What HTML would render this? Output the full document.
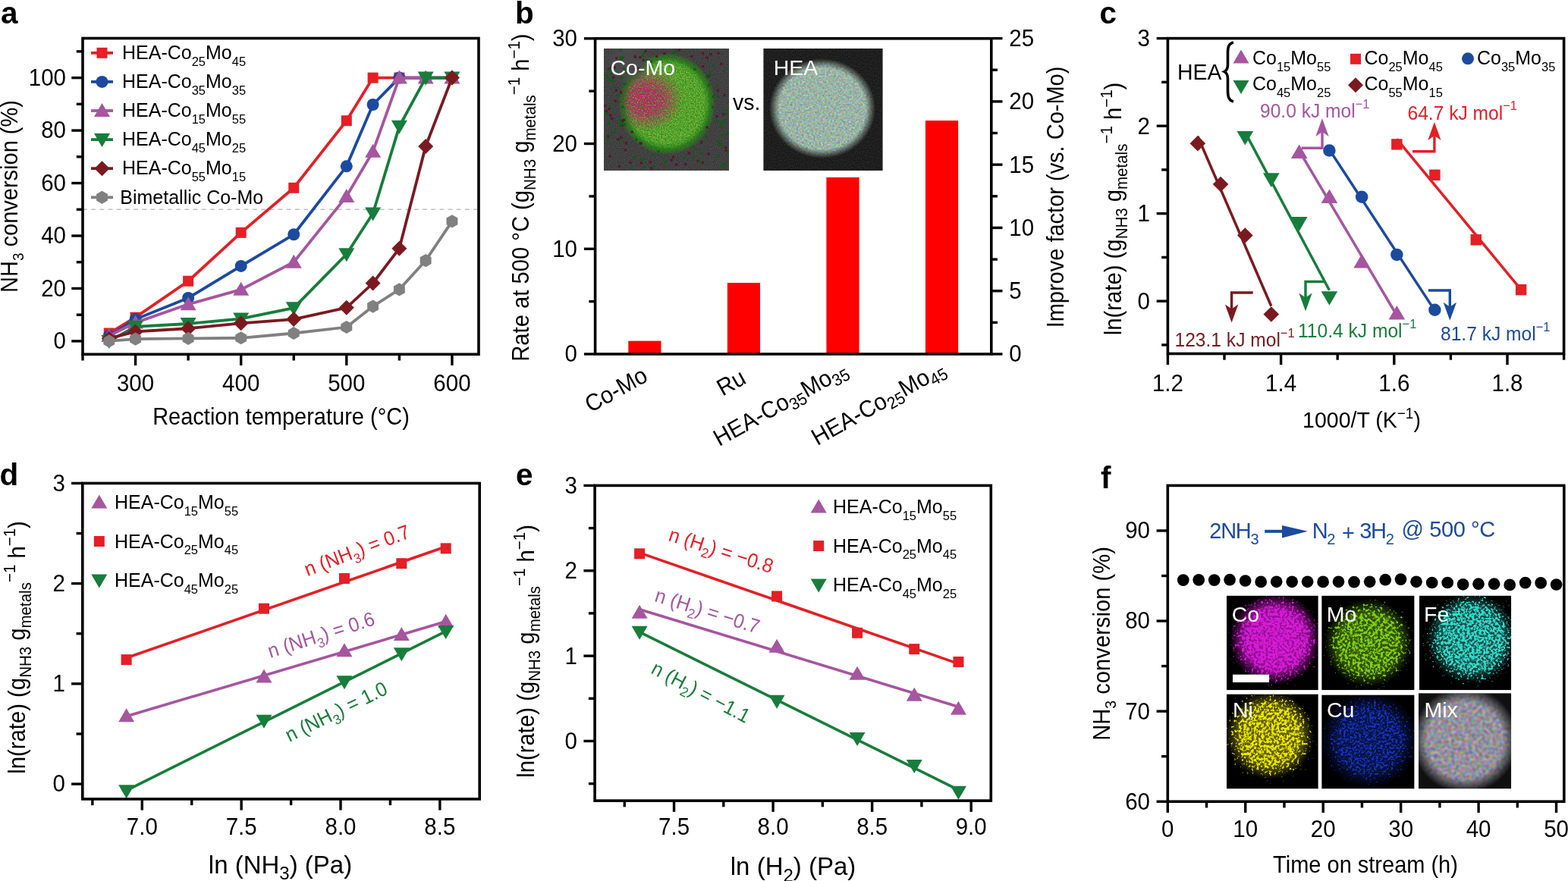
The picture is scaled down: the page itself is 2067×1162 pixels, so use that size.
<!DOCTYPE html>
<html><head><meta charset="utf-8"><style>
html,body{margin:0;padding:0;background:#fff;}
svg{display:block;font-family:'Liberation Sans', Arial, Helvetica, sans-serif;}
</style></head><body>
<svg width="2067" height="1162" viewBox="0 0 2067 1162">
<defs><clipPath id="cpb1"><rect x="796" y="64" width="165" height="161"/></clipPath><filter id="gnb1" x="0" y="0" width="100%" height="100%" color-interpolation-filters="sRGB"><feTurbulence type="fractalNoise" baseFrequency="0.9" numOctaves="1" seed="3" result="n"/><feColorMatrix in="n" type="matrix" values="0.25 0 0 0 0.13 0.25 0 0 0 0.13 0.25 0 0 0 0.13 0 0 0 0 1" result="g"/><feComposite in="g" in2="SourceGraphic" operator="in"/></filter><radialGradient id="gmPart" cx="879" cy="137" r="64" gradientUnits="userSpaceOnUse" gradientTransform="translate(879 137) scale(1.0 1.05) translate(-879 -137)"><stop offset="0" stop-color="#fff" stop-opacity="1"/><stop offset="0.84" stop-color="#fff" stop-opacity="1"/><stop offset="1" stop-color="#fff" stop-opacity="0"/></radialGradient><mask id="mPart" maskUnits="userSpaceOnUse" x="796" y="64" width="165" height="161"><rect x="796" y="64" width="165.0" height="161.0" fill="url(#gmPart)" /></mask><radialGradient id="gRim" cx="879" cy="137" r="64" gradientUnits="userSpaceOnUse" gradientTransform="translate(879 137) scale(1.0 1.05) translate(-879 -137)"><stop offset="0" stop-color="#0a6a0a" stop-opacity="0"/><stop offset="0.76" stop-color="#0a6a0a" stop-opacity="0"/><stop offset="0.9" stop-color="#0c700c" stop-opacity="0.55"/><stop offset="1" stop-color="#0a5a0a" stop-opacity="0"/></radialGradient><radialGradient id="gCut" cx="828" cy="82" r="34" gradientUnits="userSpaceOnUse" gradientTransform="translate(828 82) scale(1.0 0.88) translate(-828 -82)"><stop offset="0" stop-color="#4a4a4a" stop-opacity="1"/><stop offset="0.55" stop-color="#4a4a4a" stop-opacity="0.9"/><stop offset="1" stop-color="#4a4a4a" stop-opacity="0"/></radialGradient><radialGradient id="gmPink" cx="851" cy="131" r="50" gradientUnits="userSpaceOnUse" gradientTransform="translate(851 131) scale(1.0 0.85) translate(-851 -131)"><stop offset="0" stop-color="#fff" stop-opacity="1"/><stop offset="0.45" stop-color="#fff" stop-opacity="0.9"/><stop offset="1" stop-color="#fff" stop-opacity="0"/></radialGradient><mask id="mPink" maskUnits="userSpaceOnUse" x="796" y="64" width="165" height="161"><rect x="796" y="64" width="165.0" height="161.0" fill="url(#gmPink)" /></mask><filter id="nzb1" x="0" y="0" width="100%" height="100%" color-interpolation-filters="sRGB"><feTurbulence type="fractalNoise" baseFrequency="0.55" numOctaves="1" seed="7" result="n"/><feColorMatrix in="n" type="matrix" values="0 0 0 0 0 0 0 0 0 0 0 0 0 0 0 3.0 0 0 0 -0.8" result="m"/><feComposite in="SourceGraphic" in2="m" operator="in"/></filter><filter id="nzb2" x="0" y="0" width="100%" height="100%" color-interpolation-filters="sRGB"><feTurbulence type="fractalNoise" baseFrequency="0.6" numOctaves="1" seed="13" result="n"/><feColorMatrix in="n" type="matrix" values="0 0 0 0 0 0 0 0 0 0 0 0 0 0 0 3.0 0 0 0 -1.0" result="m"/><feComposite in="SourceGraphic" in2="m" operator="in"/></filter><clipPath id="cpb2"><rect x="1006.4" y="64" width="157.2" height="161"/></clipPath><filter id="cnb2" x="0" y="0" width="100%" height="100%" color-interpolation-filters="sRGB"><feTurbulence type="fractalNoise" baseFrequency="0.7" numOctaves="1" seed="9" result="n"/><feColorMatrix in="n" type="matrix" values="0.3 0 0 0 -0.03 0 0.3 0 0 -0.03 0 0 0.3 0 -0.03 0 0 0 0 1.0" result="g"/><feComposite in="g" in2="SourceGraphic" operator="in"/></filter><radialGradient id="gmHEA" cx="1084" cy="143" r="70" gradientUnits="userSpaceOnUse" gradientTransform="translate(1084 143) scale(1.0 0.94) translate(-1084 -143)"><stop offset="0" stop-color="#fff" stop-opacity="1"/><stop offset="0.82" stop-color="#fff" stop-opacity="1"/><stop offset="1" stop-color="#fff" stop-opacity="0"/></radialGradient><mask id="mHEA" maskUnits="userSpaceOnUse" x="1006.4" y="64" width="157.2" height="161"><rect x="1006.4" y="64" width="157.2" height="161.0" fill="url(#gmHEA)" /></mask><filter id="cnb3" x="0" y="0" width="100%" height="100%" color-interpolation-filters="sRGB"><feTurbulence type="fractalNoise" baseFrequency="0.4" numOctaves="1" seed="4" result="n"/><feColorMatrix in="n" type="matrix" values="1.9 0 0 0 -0.4 0 1.6 0 0 -0.2 0 0 2.0 0 -0.4 0 0 0 0 0.35" result="g"/><feComposite in="g" in2="SourceGraphic" operator="in"/></filter><clipPath id="cpf0"><rect x="1617.0" y="785.6" width="120.8" height="124.7"/></clipPath><radialGradient id="gdf0" cx="1681" cy="843" r="74" gradientUnits="userSpaceOnUse"><stop offset="0" stop-color="#fff" stop-opacity="1"/><stop offset="0.5" stop-color="#fff" stop-opacity="1"/><stop offset="1" stop-color="#fff" stop-opacity="0"/></radialGradient><radialGradient id="ghf0" cx="1681" cy="843" r="60" gradientUnits="userSpaceOnUse"><stop offset="0" stop-color="#d819d8" stop-opacity="0.75"/><stop offset="0.7" stop-color="#d819d8" stop-opacity="0.6375"/><stop offset="1" stop-color="#d819d8" stop-opacity="0"/></radialGradient><filter id="nzf0" x="0" y="0" width="100%" height="100%" color-interpolation-filters="sRGB"><feTurbulence type="fractalNoise" baseFrequency="0.32" numOctaves="2" seed="3" result="n"/><feColorMatrix in="n" type="matrix" values="1 0 0 0 0 1 0 0 0 0 1 0 0 0 0 0 0 0 0 1" result="ng"/><feColorMatrix in="SourceGraphic" type="matrix" values="0 0 0 1 0 0 0 0 1 0 0 0 0 1 0 0 0 0 0 1" result="gg"/><feComposite in="ng" in2="gg" operator="arithmetic" k1="0" k2="1" k3="0.5" k4="-0.5" result="s"/><feColorMatrix in="s" type="matrix" values="0 0 0 0 0.85 0 0 0 0 0.1 0 0 0 0 0.85 7 0 0 0 -2.7" result="d"/><feGaussianBlur in="d" stdDeviation="0.35"/></filter><clipPath id="cpf1"><rect x="1742.2" y="785.6" width="122.4" height="124.7"/></clipPath><radialGradient id="gdf1" cx="1804" cy="848" r="76" gradientUnits="userSpaceOnUse"><stop offset="0" stop-color="#fff" stop-opacity="1"/><stop offset="0.5" stop-color="#fff" stop-opacity="1"/><stop offset="1" stop-color="#fff" stop-opacity="0"/></radialGradient><radialGradient id="ghf1" cx="1804" cy="848" r="58" gradientUnits="userSpaceOnUse"><stop offset="0" stop-color="#7fd10f" stop-opacity="0.45"/><stop offset="0.7" stop-color="#7fd10f" stop-opacity="0.3825"/><stop offset="1" stop-color="#7fd10f" stop-opacity="0"/></radialGradient><filter id="nzf1" x="0" y="0" width="100%" height="100%" color-interpolation-filters="sRGB"><feTurbulence type="fractalNoise" baseFrequency="0.3" numOctaves="2" seed="5" result="n"/><feColorMatrix in="n" type="matrix" values="1 0 0 0 0 1 0 0 0 0 1 0 0 0 0 0 0 0 0 1" result="ng"/><feColorMatrix in="SourceGraphic" type="matrix" values="0 0 0 1 0 0 0 0 1 0 0 0 0 1 0 0 0 0 0 1" result="gg"/><feComposite in="ng" in2="gg" operator="arithmetic" k1="0" k2="1" k3="0.5" k4="-0.5" result="s"/><feColorMatrix in="s" type="matrix" values="0 0 0 0 0.5 0 0 0 0 0.82 0 0 0 0 0.06 7 0 0 0 -3.1" result="d"/><feGaussianBlur in="d" stdDeviation="0.35"/></filter><clipPath id="cpf2"><rect x="1870.9" y="785.6" width="121.3" height="124.7"/></clipPath><radialGradient id="gdf2" cx="1940" cy="842" r="80" gradientUnits="userSpaceOnUse"><stop offset="0" stop-color="#fff" stop-opacity="1"/><stop offset="0.5" stop-color="#fff" stop-opacity="1"/><stop offset="1" stop-color="#fff" stop-opacity="0"/></radialGradient><radialGradient id="ghf2" cx="1940" cy="842" r="60" gradientUnits="userSpaceOnUse"><stop offset="0" stop-color="#33dbcc" stop-opacity="0.4"/><stop offset="0.7" stop-color="#33dbcc" stop-opacity="0.34"/><stop offset="1" stop-color="#33dbcc" stop-opacity="0"/></radialGradient><filter id="nzf2" x="0" y="0" width="100%" height="100%" color-interpolation-filters="sRGB"><feTurbulence type="fractalNoise" baseFrequency="0.32" numOctaves="2" seed="7" result="n"/><feColorMatrix in="n" type="matrix" values="1 0 0 0 0 1 0 0 0 0 1 0 0 0 0 0 0 0 0 1" result="ng"/><feColorMatrix in="SourceGraphic" type="matrix" values="0 0 0 1 0 0 0 0 1 0 0 0 0 1 0 0 0 0 0 1" result="gg"/><feComposite in="ng" in2="gg" operator="arithmetic" k1="0" k2="1" k3="0.5" k4="-0.5" result="s"/><feColorMatrix in="s" type="matrix" values="0 0 0 0 0.2 0 0 0 0 0.86 0 0 0 0 0.8 7 0 0 0 -2.9" result="d"/><feGaussianBlur in="d" stdDeviation="0.35"/></filter><clipPath id="cpf3"><rect x="1617.0" y="915.4" width="120.8" height="125.0"/></clipPath><radialGradient id="gdf3" cx="1674" cy="970" r="76" gradientUnits="userSpaceOnUse"><stop offset="0" stop-color="#fff" stop-opacity="1"/><stop offset="0.5" stop-color="#fff" stop-opacity="1"/><stop offset="1" stop-color="#fff" stop-opacity="0"/></radialGradient><radialGradient id="ghf3" cx="1674" cy="970" r="58" gradientUnits="userSpaceOnUse"><stop offset="0" stop-color="#eae500" stop-opacity="0.45"/><stop offset="0.7" stop-color="#eae500" stop-opacity="0.3825"/><stop offset="1" stop-color="#eae500" stop-opacity="0"/></radialGradient><filter id="nzf3" x="0" y="0" width="100%" height="100%" color-interpolation-filters="sRGB"><feTurbulence type="fractalNoise" baseFrequency="0.3" numOctaves="2" seed="9" result="n"/><feColorMatrix in="n" type="matrix" values="1 0 0 0 0 1 0 0 0 0 1 0 0 0 0 0 0 0 0 1" result="ng"/><feColorMatrix in="SourceGraphic" type="matrix" values="0 0 0 1 0 0 0 0 1 0 0 0 0 1 0 0 0 0 0 1" result="gg"/><feComposite in="ng" in2="gg" operator="arithmetic" k1="0" k2="1" k3="0.5" k4="-0.5" result="s"/><feColorMatrix in="s" type="matrix" values="0 0 0 0 0.92 0 0 0 0 0.9 0 0 0 0 0.0 7 0 0 0 -3.0" result="d"/><feGaussianBlur in="d" stdDeviation="0.35"/></filter><clipPath id="cpf4"><rect x="1742.2" y="916.4" width="122.4" height="124.0"/></clipPath><radialGradient id="gdf4" cx="1805" cy="976" r="80" gradientUnits="userSpaceOnUse"><stop offset="0" stop-color="#fff" stop-opacity="1"/><stop offset="0.5" stop-color="#fff" stop-opacity="1"/><stop offset="1" stop-color="#fff" stop-opacity="0"/></radialGradient><radialGradient id="ghf4" cx="1805" cy="976" r="64" gradientUnits="userSpaceOnUse"><stop offset="0" stop-color="#1433b7" stop-opacity="0.38"/><stop offset="0.7" stop-color="#1433b7" stop-opacity="0.323"/><stop offset="1" stop-color="#1433b7" stop-opacity="0"/></radialGradient><filter id="nzf4" x="0" y="0" width="100%" height="100%" color-interpolation-filters="sRGB"><feTurbulence type="fractalNoise" baseFrequency="0.35" numOctaves="2" seed="11" result="n"/><feColorMatrix in="n" type="matrix" values="1 0 0 0 0 1 0 0 0 0 1 0 0 0 0 0 0 0 0 1" result="ng"/><feColorMatrix in="SourceGraphic" type="matrix" values="0 0 0 1 0 0 0 0 1 0 0 0 0 1 0 0 0 0 0 1" result="gg"/><feComposite in="ng" in2="gg" operator="arithmetic" k1="0" k2="1" k3="0.5" k4="-0.5" result="s"/><feColorMatrix in="s" type="matrix" values="0 0 0 0 0.08 0 0 0 0 0.2 0 0 0 0 0.72 7 0 0 0 -3.2" result="d"/><feGaussianBlur in="d" stdDeviation="0.35"/></filter><clipPath id="cpf5"><rect x="1869.9" y="914.2" width="122.3" height="126.2"/></clipPath><radialGradient id="gmmix" cx="1931" cy="976" r="70" gradientUnits="userSpaceOnUse"><stop offset="0" stop-color="#fff" stop-opacity="1"/><stop offset="0.72" stop-color="#fff" stop-opacity="1"/><stop offset="1" stop-color="#fff" stop-opacity="0"/></radialGradient><mask id="mmix" maskUnits="userSpaceOnUse" x="1869.9" y="914.2" width="122.3" height="126.2"><rect x="1869.9" y="914.2" width="122.3" height="126.2" fill="url(#gmmix)" /></mask><filter id="cnf5" x="0" y="0" width="100%" height="100%" color-interpolation-filters="sRGB"><feTurbulence type="fractalNoise" baseFrequency="0.22" numOctaves="1" seed="31" result="n"/><feColorMatrix in="n" type="matrix" values="1.9 0 0 0 -0.45 0 1.3 0 0 -0.2 0 0 2.0 0 -0.35 0 0 0 0 0.38" result="g"/><feComposite in="g" in2="SourceGraphic" operator="in"/></filter></defs>
<rect width="2067" height="1162" fill="#fff"/>
<text id="pla" x="1" y="31" font-size="40.5" font-weight="bold">a</text>
<text id="plb" x="679" y="31" font-size="40.5" font-weight="bold">b</text>
<text id="plc" x="1449.5" y="31" font-size="40.5" font-weight="bold">c</text>
<text id="pld" x="-0.5" y="639.5" font-size="40.5" font-weight="bold">d</text>
<text id="ple" x="680" y="639.5" font-size="40.5" font-weight="bold">e</text>
<text id="plf" x="1451" y="644" font-size="40.5" font-weight="bold">f</text>
<line x1="109" y1="276.27" x2="629" y2="276.27" stroke="#c0c0c0" stroke-width="1.7" stroke-dasharray="5.8,5.4"/>
<polyline points="143.78,439.51 178.56,418.67 248.13,370.74 317.69,306.83 387.25,247.79 456.81,159.22 491.6,102.6 526.38,102.6 561.16,102.6 595.94,102.6" fill="none" stroke="#e41f26" stroke-width="3.8" stroke-linejoin="miter"/>
<rect x="136.78" y="432.51" width="14" height="14" fill="#e41f26"/>
<rect x="171.56" y="411.67" width="14" height="14" fill="#e41f26"/>
<rect x="241.13" y="363.74" width="14" height="14" fill="#e41f26"/>
<rect x="310.69" y="299.83" width="14" height="14" fill="#e41f26"/>
<rect x="380.25" y="240.79" width="14" height="14" fill="#e41f26"/>
<rect x="449.81" y="152.22" width="14" height="14" fill="#e41f26"/>
<rect x="484.6" y="95.6" width="14" height="14" fill="#e41f26"/>
<rect x="519.38" y="95.6" width="14" height="14" fill="#e41f26"/>
<rect x="554.16" y="95.6" width="14" height="14" fill="#e41f26"/>
<rect x="588.94" y="95.6" width="14" height="14" fill="#e41f26"/>
<polyline points="143.78,442.99 178.56,421.1 248.13,392.97 317.69,350.94 387.25,309.26 456.81,219.3 491.6,138.03 526.38,102.6 561.16,102.6 595.94,102.6" fill="none" stroke="#1b4a9f" stroke-width="3.8" stroke-linejoin="miter"/>
<circle cx="143.78" cy="442.99" r="8" fill="#1b4a9f"/>
<circle cx="178.56" cy="421.1" r="8" fill="#1b4a9f"/>
<circle cx="248.13" cy="392.97" r="8" fill="#1b4a9f"/>
<circle cx="317.69" cy="350.94" r="8" fill="#1b4a9f"/>
<circle cx="387.25" cy="309.26" r="8" fill="#1b4a9f"/>
<circle cx="456.81" cy="219.3" r="8" fill="#1b4a9f"/>
<circle cx="491.6" cy="138.03" r="8" fill="#1b4a9f"/>
<circle cx="526.38" cy="102.6" r="8" fill="#1b4a9f"/>
<circle cx="561.16" cy="102.6" r="8" fill="#1b4a9f"/>
<circle cx="595.94" cy="102.6" r="8" fill="#1b4a9f"/>
<polyline points="143.78,442.99 178.56,425.62 248.13,401.31 317.69,381.86 387.25,345.73 456.81,258.9 491.6,199.85 526.38,102.6 561.16,102.6 595.94,102.6" fill="none" stroke="#a655a0" stroke-width="3.8" stroke-linejoin="miter"/>
<polygon points="143.78,432.99 133.28,450.99 154.28,450.99" fill="#a655a0"/>
<polygon points="178.56,415.62 168.06,433.62 189.06,433.62" fill="#a655a0"/>
<polygon points="248.13,391.31 237.63,409.31 258.63,409.31" fill="#a655a0"/>
<polygon points="317.69,371.86 307.19,389.86 328.19,389.86" fill="#a655a0"/>
<polygon points="387.25,335.73 376.75,353.73 397.75,353.73" fill="#a655a0"/>
<polygon points="456.81,248.9 446.31,266.9 467.31,266.9" fill="#a655a0"/>
<polygon points="491.6,189.85 481.1,207.85 502.1,207.85" fill="#a655a0"/>
<polygon points="526.38,92.6 515.88,110.6 536.88,110.6" fill="#a655a0"/>
<polygon points="561.16,92.6 550.66,110.6 571.66,110.6" fill="#a655a0"/>
<polygon points="595.94,92.6 585.44,110.6 606.44,110.6" fill="#a655a0"/>
<polyline points="143.78,449.93 178.56,430.83 248.13,427.01 317.69,420.41 387.25,406.17 456.81,335.31 491.6,281.48 526.38,166.86 561.16,102.6 595.94,102.6" fill="none" stroke="#177d3b" stroke-width="3.8" stroke-linejoin="miter"/>
<polygon points="143.78,459.93 133.28,441.93 154.28,441.93" fill="#177d3b"/>
<polygon points="178.56,440.83 168.06,422.83 189.06,422.83" fill="#177d3b"/>
<polygon points="248.13,437.01 237.63,419.01 258.63,419.01" fill="#177d3b"/>
<polygon points="317.69,430.41 307.19,412.41 328.19,412.41" fill="#177d3b"/>
<polygon points="387.25,416.17 376.75,398.17 397.75,398.17" fill="#177d3b"/>
<polygon points="456.81,345.31 446.31,327.31 467.31,327.31" fill="#177d3b"/>
<polygon points="491.6,291.48 481.1,273.48 502.1,273.48" fill="#177d3b"/>
<polygon points="526.38,176.86 515.88,158.86 536.88,158.86" fill="#177d3b"/>
<polygon points="561.16,112.6 550.66,94.6 571.66,94.6" fill="#177d3b"/>
<polygon points="595.94,112.6 585.44,94.6 606.44,94.6" fill="#177d3b"/>
<polyline points="143.78,446.46 178.56,437.43 248.13,433.26 317.69,426.31 387.25,421.1 456.81,405.82 491.6,373.52 526.38,327.67 561.16,192.91 595.94,102.6" fill="none" stroke="#7a1a20" stroke-width="3.8" stroke-linejoin="miter"/>
<polygon points="143.78,436.46 153.78,446.46 143.78,456.46 133.78,446.46" fill="#7a1a20"/>
<polygon points="178.56,427.43 188.56,437.43 178.56,447.43 168.56,437.43" fill="#7a1a20"/>
<polygon points="248.13,423.26 258.13,433.26 248.13,443.26 238.13,433.26" fill="#7a1a20"/>
<polygon points="317.69,416.31 327.69,426.31 317.69,436.31 307.69,426.31" fill="#7a1a20"/>
<polygon points="387.25,411.1 397.25,421.1 387.25,431.1 377.25,421.1" fill="#7a1a20"/>
<polygon points="456.81,395.82 466.81,405.82 456.81,415.82 446.81,405.82" fill="#7a1a20"/>
<polygon points="491.6,363.52 501.6,373.52 491.6,383.52 481.6,373.52" fill="#7a1a20"/>
<polygon points="526.38,317.67 536.38,327.67 526.38,337.67 516.38,327.67" fill="#7a1a20"/>
<polygon points="561.16,182.91 571.16,192.91 561.16,202.91 551.16,192.91" fill="#7a1a20"/>
<polygon points="595.94,92.6 605.94,102.6 595.94,112.6 585.94,102.6" fill="#7a1a20"/>
<polyline points="143.78,449.93 178.56,447.15 248.13,446.46 317.69,445.77 387.25,439.51 456.81,431.52 491.6,404.09 526.38,381.86 561.16,343.65 595.94,291.9" fill="none" stroke="#808080" stroke-width="3.8" stroke-linejoin="miter"/>
<polygon points="143.78,441.33 151.23,445.63 151.23,454.23 143.78,458.53 136.33,454.23 136.33,445.63" fill="#808080"/>
<polygon points="178.56,438.55 186.01,442.85 186.01,451.45 178.56,455.75 171.12,451.45 171.12,442.85" fill="#808080"/>
<polygon points="248.13,437.86 255.57,442.16 255.57,450.76 248.13,455.06 240.68,450.76 240.68,442.16" fill="#808080"/>
<polygon points="317.69,437.17 325.14,441.47 325.14,450.07 317.69,454.37 310.24,450.07 310.24,441.47" fill="#808080"/>
<polygon points="387.25,430.91 394.7,435.21 394.7,443.81 387.25,448.11 379.8,443.81 379.8,435.21" fill="#808080"/>
<polygon points="456.81,422.92 464.26,427.22 464.26,435.82 456.81,440.12 449.37,435.82 449.37,427.22" fill="#808080"/>
<polygon points="491.6,395.49 499.04,399.79 499.04,408.39 491.6,412.69 484.15,408.39 484.15,399.79" fill="#808080"/>
<polygon points="526.38,373.26 533.83,377.56 533.83,386.16 526.38,390.46 518.93,386.16 518.93,377.56" fill="#808080"/>
<polygon points="561.16,335.05 568.61,339.35 568.61,347.95 561.16,352.25 553.71,347.95 553.71,339.35" fill="#808080"/>
<polygon points="595.94,283.3 603.39,287.6 603.39,296.2 595.94,300.5 588.49,296.2 588.49,287.6" fill="#808080"/>
<rect x="109" y="50.5" width="522" height="416.8" fill="none" stroke="#000" stroke-width="3.6"/>
<line x1="94.3" y1="449.93" x2="109" y2="449.93" stroke="#000" stroke-width="3.4" stroke-linecap="butt" />
<line x1="94.3" y1="380.47" x2="109" y2="380.47" stroke="#000" stroke-width="3.4" stroke-linecap="butt" />
<line x1="94.3" y1="311" x2="109" y2="311" stroke="#000" stroke-width="3.4" stroke-linecap="butt" />
<line x1="94.3" y1="241.53" x2="109" y2="241.53" stroke="#000" stroke-width="3.4" stroke-linecap="butt" />
<line x1="94.3" y1="172.07" x2="109" y2="172.07" stroke="#000" stroke-width="3.4" stroke-linecap="butt" />
<line x1="94.3" y1="102.6" x2="109" y2="102.6" stroke="#000" stroke-width="3.4" stroke-linecap="butt" />
<line x1="100.8" y1="415.2" x2="109" y2="415.2" stroke="#000" stroke-width="3.4" stroke-linecap="butt" />
<line x1="100.8" y1="345.73" x2="109" y2="345.73" stroke="#000" stroke-width="3.4" stroke-linecap="butt" />
<line x1="100.8" y1="276.27" x2="109" y2="276.27" stroke="#000" stroke-width="3.4" stroke-linecap="butt" />
<line x1="100.8" y1="206.8" x2="109" y2="206.8" stroke="#000" stroke-width="3.4" stroke-linecap="butt" />
<line x1="100.8" y1="137.33" x2="109" y2="137.33" stroke="#000" stroke-width="3.4" stroke-linecap="butt" />
<line x1="100.8" y1="67.87" x2="109" y2="67.87" stroke="#000" stroke-width="3.4" stroke-linecap="butt" />
<text transform="translate(87 460.33) scale(1 1.055)" font-size="29.5" fill="#000" text-anchor="end" id="t1"><tspan>0</tspan></text>
<text transform="translate(87 390.87) scale(1 1.055)" font-size="29.5" fill="#000" text-anchor="end" id="t2"><tspan>20</tspan></text>
<text transform="translate(87 321.4) scale(1 1.055)" font-size="29.5" fill="#000" text-anchor="end" id="t3"><tspan>40</tspan></text>
<text transform="translate(87 251.93) scale(1 1.055)" font-size="29.5" fill="#000" text-anchor="end" id="t4"><tspan>60</tspan></text>
<text transform="translate(87 182.47) scale(1 1.055)" font-size="29.5" fill="#000" text-anchor="end" id="t5"><tspan>80</tspan></text>
<text transform="translate(87 113) scale(1 1.055)" font-size="29.5" fill="#000" text-anchor="end" id="t6"><tspan>100</tspan></text>
<line x1="178.56" y1="467.3" x2="178.56" y2="482" stroke="#000" stroke-width="3.4" stroke-linecap="butt" />
<line x1="317.69" y1="467.3" x2="317.69" y2="482" stroke="#000" stroke-width="3.4" stroke-linecap="butt" />
<line x1="456.81" y1="467.3" x2="456.81" y2="482" stroke="#000" stroke-width="3.4" stroke-linecap="butt" />
<line x1="595.94" y1="467.3" x2="595.94" y2="482" stroke="#000" stroke-width="3.4" stroke-linecap="butt" />
<line x1="109" y1="467.3" x2="109" y2="475.5" stroke="#000" stroke-width="3.4" stroke-linecap="butt" />
<line x1="248.13" y1="467.3" x2="248.13" y2="475.5" stroke="#000" stroke-width="3.4" stroke-linecap="butt" />
<line x1="387.25" y1="467.3" x2="387.25" y2="475.5" stroke="#000" stroke-width="3.4" stroke-linecap="butt" />
<line x1="526.38" y1="467.3" x2="526.38" y2="475.5" stroke="#000" stroke-width="3.4" stroke-linecap="butt" />
<text transform="translate(178.56 516) scale(1 1.055)" font-size="29.5" fill="#000" text-anchor="middle" id="t7"><tspan>300</tspan></text>
<text transform="translate(317.69 516) scale(1 1.055)" font-size="29.5" fill="#000" text-anchor="middle" id="t8"><tspan>400</tspan></text>
<text transform="translate(456.81 516) scale(1 1.055)" font-size="29.5" fill="#000" text-anchor="middle" id="t9"><tspan>500</tspan></text>
<text transform="translate(595.94 516) scale(1 1.055)" font-size="29.5" fill="#000" text-anchor="middle" id="t10"><tspan>600</tspan></text>
<text transform="translate(370.5 559.5) scale(1 1.055)" font-size="29" fill="#000" text-anchor="middle" id="t11"><tspan>Reaction temperature (°C)</tspan></text>
<text transform="translate(23 259) rotate(-90) scale(1 1.055)" font-size="29" fill="#000" text-anchor="middle" id="t12"><tspan>NH</tspan><tspan dy="7.58" font-size="19">3</tspan><tspan dy="-7.58"> conversion (%)</tspan></text>
<line x1="120" y1="69.8" x2="149" y2="69.8" stroke="#e41f26" stroke-width="3.8" stroke-linecap="butt" />
<rect x="127.5" y="62.8" width="14" height="14" fill="#e41f26"/>
<text transform="translate(161 78) scale(1 1.055)" font-size="25" fill="#000" id="t13"><tspan>HEA-Co</tspan><tspan dy="8.15" font-size="16.5">25</tspan><tspan dy="-8.15">Mo</tspan><tspan dy="8.15" font-size="16.5">45</tspan></text>
<line x1="120" y1="107.9" x2="149" y2="107.9" stroke="#1b4a9f" stroke-width="3.8" stroke-linecap="butt" />
<circle cx="134.5" cy="107.9" r="8" fill="#1b4a9f"/>
<text transform="translate(161 116.1) scale(1 1.055)" font-size="25" fill="#000" id="t14"><tspan>HEA-Co</tspan><tspan dy="8.15" font-size="16.5">35</tspan><tspan dy="-8.15">Mo</tspan><tspan dy="8.15" font-size="16.5">35</tspan></text>
<line x1="120" y1="146" x2="149" y2="146" stroke="#a655a0" stroke-width="3.8" stroke-linecap="butt" />
<polygon points="134.5,136 124,154 145,154" fill="#a655a0"/>
<text transform="translate(161 154.2) scale(1 1.055)" font-size="25" fill="#000" id="t15"><tspan>HEA-Co</tspan><tspan dy="8.15" font-size="16.5">15</tspan><tspan dy="-8.15">Mo</tspan><tspan dy="8.15" font-size="16.5">55</tspan></text>
<line x1="120" y1="184.1" x2="149" y2="184.1" stroke="#177d3b" stroke-width="3.8" stroke-linecap="butt" />
<polygon points="134.5,194.1 124,176.1 145,176.1" fill="#177d3b"/>
<text transform="translate(161 192.3) scale(1 1.055)" font-size="25" fill="#000" id="t16"><tspan>HEA-Co</tspan><tspan dy="8.15" font-size="16.5">45</tspan><tspan dy="-8.15">Mo</tspan><tspan dy="8.15" font-size="16.5">25</tspan></text>
<line x1="120" y1="222.2" x2="149" y2="222.2" stroke="#7a1a20" stroke-width="3.8" stroke-linecap="butt" />
<polygon points="134.5,212.2 144.5,222.2 134.5,232.2 124.5,222.2" fill="#7a1a20"/>
<text transform="translate(161 230.4) scale(1 1.055)" font-size="25" fill="#000" id="t17"><tspan>HEA-Co</tspan><tspan dy="8.15" font-size="16.5">55</tspan><tspan dy="-8.15">Mo</tspan><tspan dy="8.15" font-size="16.5">15</tspan></text>
<line x1="120" y1="260.3" x2="149" y2="260.3" stroke="#808080" stroke-width="3.8" stroke-linecap="butt" />
<polygon points="134.5,251.7 141.95,256 141.95,264.6 134.5,268.9 127.05,264.6 127.05,256" fill="#808080"/>
<text transform="translate(158.3 268.5) scale(1 1.055)" font-size="25" fill="#000" id="t18"><tspan>Bimetallic Co-Mo</tspan></text>
<rect x="828.27" y="449.66" width="43.2" height="17.34" fill="#ff0000"/>
<rect x="958.82" y="373.08" width="43.2" height="93.92" fill="#ff0000"/>
<rect x="1089.38" y="233.93" width="43.2" height="233.07" fill="#ff0000"/>
<rect x="1219.93" y="159.01" width="43.2" height="307.99" fill="#ff0000"/>
<g id="imgs_b"><g clip-path="url(#cpb1)">
<rect x="796" y="64" width="165.0" height="161.0" fill="#3c3c3c" />
<rect x="796" y="64" width="165.0" height="161.0" fill="#fff" filter="url(#gnb1)"/>
<g mask="url(#mPart)">
<rect x="796" y="64" width="165.0" height="161.0" fill="#22961a" />
<rect x="796" y="64" width="165.0" height="161.0" fill="#8cb040" filter="url(#nzb2)"/>
<g mask="url(#mPink)">
<rect x="796" y="64" width="165.0" height="161.0" fill="#c41470" filter="url(#nzb1)"/>
</g>
</g>
<ellipse cx="879" cy="137" rx="64" ry="67.2" fill="url(#gRim)"/>
<ellipse cx="828" cy="82" rx="34" ry="30" fill="url(#gCut)"/>
<rect x="924.8" y="212.9" width="3.2" height="3.2" fill="#571432"/>
<rect x="945.4" y="68.6" width="3.2" height="3.2" fill="#571432"/>
<rect x="901.1" y="206.3" width="3.2" height="3.2" fill="#0d5c12"/>
<rect x="798.1" y="98.2" width="3.2" height="3.2" fill="#0d5c12"/>
<rect x="944.4" y="185.0" width="3.2" height="3.2" fill="#0d5c12"/>
<rect x="925.1" y="85.9" width="3.2" height="3.2" fill="#571432"/>
<rect x="816.5" y="64.3" width="3.2" height="3.2" fill="#0d5c12"/>
<rect x="830.9" y="219.2" width="3.2" height="3.2" fill="#0d5c12"/>
<rect x="951.8" y="149.2" width="3.2" height="3.2" fill="#571432"/>
<rect x="829.2" y="212.7" width="3.2" height="3.2" fill="#571432"/>
<rect x="819.6" y="74.3" width="3.2" height="3.2" fill="#0d5c12"/>
<rect x="893.7" y="64.5" width="3.2" height="3.2" fill="#571432"/>
<rect x="910.2" y="73.0" width="3.2" height="3.2" fill="#571432"/>
<rect x="799.7" y="182.5" width="3.2" height="3.2" fill="#0d5c12"/>
<rect x="889.7" y="65.4" width="3.2" height="3.2" fill="#0d5c12"/>
<rect x="918.4" y="210.9" width="3.2" height="3.2" fill="#571432"/>
<rect x="813.5" y="182.2" width="3.2" height="3.2" fill="#571432"/>
<rect x="935.3" y="69.8" width="3.2" height="3.2" fill="#571432"/>
<rect x="810.8" y="117.8" width="3.2" height="3.2" fill="#571432"/>
<rect x="944.7" y="117.7" width="3.2" height="3.2" fill="#571432"/>
<rect x="808.7" y="87.5" width="3.2" height="3.2" fill="#571432"/>
<rect x="955.8" y="148.3" width="3.2" height="3.2" fill="#0d5c12"/>
<rect x="864.3" y="72.8" width="3.2" height="3.2" fill="#571432"/>
<rect x="801.3" y="142.0" width="3.2" height="3.2" fill="#571432"/>
<rect x="817.2" y="179.6" width="3.2" height="3.2" fill="#571432"/>
<rect x="813.3" y="132.7" width="3.2" height="3.2" fill="#0d5c12"/>
<rect x="932.8" y="110.6" width="3.2" height="3.2" fill="#0d5c12"/>
<rect x="957.9" y="198.7" width="3.2" height="3.2" fill="#0d5c12"/>
<rect x="857.1" y="220.2" width="3.2" height="3.2" fill="#571432"/>
<rect x="850.8" y="78.1" width="3.2" height="3.2" fill="#0d5c12"/>
<rect x="922.7" y="201.0" width="3.2" height="3.2" fill="#0d5c12"/>
<rect x="923.3" y="186.4" width="3.2" height="3.2" fill="#571432"/>
<rect x="843.6" y="213.4" width="3.2" height="3.2" fill="#571432"/>
<rect x="890.1" y="65.8" width="3.2" height="3.2" fill="#0d5c12"/>
<rect x="915.5" y="194.9" width="3.2" height="3.2" fill="#0d5c12"/>
<rect x="932.5" y="201.4" width="3.2" height="3.2" fill="#571432"/>
<rect x="954.1" y="215.1" width="3.2" height="3.2" fill="#0d5c12"/>
<rect x="822.9" y="196.2" width="3.2" height="3.2" fill="#571432"/>
<rect x="823.8" y="187.3" width="3.2" height="3.2" fill="#571432"/>
<rect x="800.5" y="89.3" width="3.2" height="3.2" fill="#571432"/>
<rect x="831.5" y="172.4" width="3.2" height="3.2" fill="#571432"/>
<rect x="802.8" y="138.5" width="3.2" height="3.2" fill="#0d5c12"/>
<rect x="804.8" y="85.1" width="3.2" height="3.2" fill="#0d5c12"/>
<rect x="825.4" y="94.6" width="3.2" height="3.2" fill="#0d5c12"/>
<rect x="834.5" y="206.7" width="3.2" height="3.2" fill="#0d5c12"/>
<rect x="801.8" y="160.9" width="3.2" height="3.2" fill="#0d5c12"/>
<rect x="890.1" y="215.4" width="3.2" height="3.2" fill="#571432"/>
<rect x="819.0" y="158.2" width="3.2" height="3.2" fill="#571432"/>
<rect x="951.1" y="216.9" width="3.2" height="3.2" fill="#0d5c12"/>
<rect x="818.8" y="163.5" width="3.2" height="3.2" fill="#571432"/>
<rect x="953.5" y="124.0" width="3.2" height="3.2" fill="#571432"/>
<rect x="944.0" y="158.1" width="3.2" height="3.2" fill="#0d5c12"/>
<rect x="954.9" y="142.4" width="3.2" height="3.2" fill="#0d5c12"/>
<rect x="847.7" y="219.5" width="3.2" height="3.2" fill="#0d5c12"/>
<rect x="815.7" y="162.2" width="3.2" height="3.2" fill="#0d5c12"/>
<rect x="843.5" y="187.5" width="3.2" height="3.2" fill="#571432"/>
<rect x="798.1" y="148.1" width="3.2" height="3.2" fill="#0d5c12"/>
<rect x="947.5" y="187.5" width="3.2" height="3.2" fill="#0d5c12"/>
<rect x="839.4" y="88.5" width="3.2" height="3.2" fill="#571432"/>
<rect x="815.1" y="184.1" width="3.2" height="3.2" fill="#0d5c12"/>
<rect x="801.9" y="103.9" width="3.2" height="3.2" fill="#0d5c12"/>
<rect x="944.5" y="204.3" width="3.2" height="3.2" fill="#0d5c12"/>
<rect x="943.7" y="124.9" width="3.2" height="3.2" fill="#0d5c12"/>
<rect x="934.0" y="95.0" width="3.2" height="3.2" fill="#0d5c12"/>
<rect x="930.5" y="74.4" width="3.2" height="3.2" fill="#571432"/>
<rect x="842.4" y="187.4" width="3.2" height="3.2" fill="#571432"/>
<rect x="819.1" y="139.6" width="3.2" height="3.2" fill="#0d5c12"/>
<rect x="820.9" y="156.6" width="3.2" height="3.2" fill="#571432"/>
<rect x="807.1" y="100.3" width="3.2" height="3.2" fill="#571432"/>
<rect x="800.1" y="178.2" width="3.2" height="3.2" fill="#571432"/>
<rect x="957.7" y="174.8" width="3.2" height="3.2" fill="#0d5c12"/>
<rect x="932.4" y="98.6" width="3.2" height="3.2" fill="#571432"/>
<rect x="950.3" y="176.6" width="3.2" height="3.2" fill="#0d5c12"/>
<rect x="843.4" y="209.0" width="3.2" height="3.2" fill="#0d5c12"/>
<rect x="822.1" y="162.3" width="3.2" height="3.2" fill="#0d5c12"/>
<rect x="813.5" y="123.9" width="3.2" height="3.2" fill="#0d5c12"/>
<rect x="805.3" y="154.9" width="3.2" height="3.2" fill="#571432"/>
<rect x="938.3" y="85.2" width="3.2" height="3.2" fill="#0d5c12"/>
<rect x="875.3" y="212.3" width="3.2" height="3.2" fill="#0d5c12"/>
<rect x="805.0" y="174.2" width="3.2" height="3.2" fill="#0d5c12"/>
<rect x="943.5" y="151.7" width="3.2" height="3.2" fill="#571432"/>
<rect x="837.2" y="182.6" width="3.2" height="3.2" fill="#0d5c12"/>
<rect x="817.7" y="101.0" width="3.2" height="3.2" fill="#0d5c12"/>
<rect x="809.8" y="169.5" width="3.2" height="3.2" fill="#0d5c12"/>
<rect x="816.2" y="157.8" width="3.2" height="3.2" fill="#0d5c12"/>
<rect x="938.1" y="139.9" width="3.2" height="3.2" fill="#0d5c12"/>
<rect x="925.0" y="68.7" width="3.2" height="3.2" fill="#571432"/>
<rect x="804.7" y="87.8" width="3.2" height="3.2" fill="#571432"/>
<rect x="814.8" y="217.7" width="3.2" height="3.2" fill="#571432"/>
<rect x="818.6" y="162.7" width="3.2" height="3.2" fill="#0d5c12"/>
<rect x="930.6" y="166.4" width="3.2" height="3.2" fill="#571432"/>
<rect x="866.2" y="198.5" width="3.2" height="3.2" fill="#0d5c12"/>
<rect x="802.4" y="204.5" width="3.2" height="3.2" fill="#571432"/>
<rect x="796.1" y="138.3" width="3.2" height="3.2" fill="#571432"/>
<rect x="821.1" y="89.1" width="3.2" height="3.2" fill="#0d5c12"/>
<rect x="858.5" y="203.1" width="3.2" height="3.2" fill="#0d5c12"/>
<rect x="822.2" y="109.4" width="3.2" height="3.2" fill="#0d5c12"/>
<rect x="874.1" y="69.1" width="3.2" height="3.2" fill="#571432"/>
<rect x="855.8" y="212.2" width="3.2" height="3.2" fill="#571432"/>
<rect x="949.2" y="82.6" width="3.2" height="3.2" fill="#571432"/>
<rect x="914.1" y="89.8" width="3.2" height="3.2" fill="#0d5c12"/>
<rect x="800.0" y="100.4" width="3.2" height="3.2" fill="#0d5c12"/>
<rect x="861.0" y="217.8" width="3.2" height="3.2" fill="#0d5c12"/>
<rect x="948.4" y="166.0" width="3.2" height="3.2" fill="#0d5c12"/>
<rect x="803.3" y="150.6" width="3.2" height="3.2" fill="#571432"/>
<rect x="811.2" y="75.3" width="3.2" height="3.2" fill="#571432"/>
<rect x="875.6" y="211.8" width="3.2" height="3.2" fill="#0d5c12"/>
<rect x="835.4" y="72.0" width="3.2" height="3.2" fill="#0d5c12"/>
<rect x="805.7" y="104.4" width="3.2" height="3.2" fill="#0d5c12"/>
<rect x="845.6" y="72.1" width="3.2" height="3.2" fill="#0d5c12"/>
<rect x="953.4" y="92.3" width="3.2" height="3.2" fill="#0d5c12"/>
<rect x="809.7" y="113.6" width="3.2" height="3.2" fill="#0d5c12"/>
<rect x="883.8" y="209.6" width="3.2" height="3.2" fill="#571432"/>
<rect x="934.8" y="97.9" width="3.2" height="3.2" fill="#0d5c12"/>
<rect x="943.9" y="112.6" width="3.2" height="3.2" fill="#0d5c12"/>
<rect x="929.9" y="99.4" width="3.2" height="3.2" fill="#0d5c12"/>
<rect x="846.5" y="77.8" width="3.2" height="3.2" fill="#571432"/>
<rect x="817.0" y="77.0" width="3.2" height="3.2" fill="#0d5c12"/>
<rect x="809.7" y="131.7" width="3.2" height="3.2" fill="#571432"/>
<rect x="835.8" y="73.7" width="3.2" height="3.2" fill="#571432"/>
<rect x="803.8" y="95.6" width="3.2" height="3.2" fill="#0d5c12"/>
<rect x="856.5" y="79.6" width="3.2" height="3.2" fill="#0d5c12"/>
<rect x="886.1" y="205.6" width="3.2" height="3.2" fill="#571432"/>
<rect x="902.2" y="214.9" width="3.2" height="3.2" fill="#571432"/>
<rect x="817.1" y="74.4" width="3.2" height="3.2" fill="#0d5c12"/>
<rect x="842.3" y="74.0" width="3.2" height="3.2" fill="#571432"/>
<rect x="886.3" y="68.3" width="3.2" height="3.2" fill="#0d5c12"/>
<rect x="817.1" y="120.4" width="3.2" height="3.2" fill="#571432"/>
<rect x="949.8" y="160.7" width="3.2" height="3.2" fill="#0d5c12"/>
<rect x="849.5" y="66.0" width="3.2" height="3.2" fill="#571432"/>
<rect x="930.0" y="178.8" width="3.2" height="3.2" fill="#0d5c12"/>
<rect x="948.0" y="189.6" width="3.2" height="3.2" fill="#0d5c12"/>
<rect x="847.4" y="208.6" width="3.2" height="3.2" fill="#0d5c12"/>
<rect x="920.3" y="211.9" width="3.2" height="3.2" fill="#0d5c12"/>
<rect x="953.1" y="158.2" width="3.2" height="3.2" fill="#0d5c12"/>
<rect x="938.8" y="126.0" width="3.2" height="3.2" fill="#0d5c12"/>
<rect x="955.2" y="196.8" width="3.2" height="3.2" fill="#571432"/>
<rect x="802.1" y="90.8" width="3.2" height="3.2" fill="#0d5c12"/>
<rect x="912.3" y="206.2" width="3.2" height="3.2" fill="#0d5c12"/>
<rect x="906.6" y="200.4" width="3.2" height="3.2" fill="#571432"/>
<rect x="797.6" y="144.9" width="3.2" height="3.2" fill="#571432"/>
<rect x="847.4" y="68.3" width="3.2" height="3.2" fill="#0d5c12"/>
<rect x="955.1" y="192.9" width="3.2" height="3.2" fill="#571432"/>
</g>
<g clip-path="url(#cpb2)">
<rect x="1006.4" y="64" width="157.2" height="161.0" fill="#1e201e" />
<rect x="1006.4" y="64" width="157.2" height="161.0" fill="#fff" filter="url(#cnb2)"/>
<g mask="url(#mHEA)">
<rect x="1006.4" y="64" width="157.2" height="161.0" fill="#a2c2ae" />
<rect x="1006.4" y="64" width="157.2" height="161.0" fill="#fff" filter="url(#cnb3)"/>
</g>
</g>
</g>
<rect x="784.6" y="50.8" width="522.2" height="416.2" fill="none" stroke="#000" stroke-width="3.6"/>
<line x1="769.9" y1="467" x2="784.6" y2="467" stroke="#000" stroke-width="3.4" stroke-linecap="butt" />
<line x1="769.9" y1="328.27" x2="784.6" y2="328.27" stroke="#000" stroke-width="3.4" stroke-linecap="butt" />
<line x1="769.9" y1="189.53" x2="784.6" y2="189.53" stroke="#000" stroke-width="3.4" stroke-linecap="butt" />
<line x1="769.9" y1="50.8" x2="784.6" y2="50.8" stroke="#000" stroke-width="3.4" stroke-linecap="butt" />
<line x1="776.4" y1="397.63" x2="784.6" y2="397.63" stroke="#000" stroke-width="3.4" stroke-linecap="butt" />
<line x1="776.4" y1="258.9" x2="784.6" y2="258.9" stroke="#000" stroke-width="3.4" stroke-linecap="butt" />
<line x1="776.4" y1="120.17" x2="784.6" y2="120.17" stroke="#000" stroke-width="3.4" stroke-linecap="butt" />
<text transform="translate(761 477.4) scale(1 1.055)" font-size="29.5" fill="#000" text-anchor="end" id="t19"><tspan>0</tspan></text>
<text transform="translate(761 338.67) scale(1 1.055)" font-size="29.5" fill="#000" text-anchor="end" id="t20"><tspan>10</tspan></text>
<text transform="translate(761 199.93) scale(1 1.055)" font-size="29.5" fill="#000" text-anchor="end" id="t21"><tspan>20</tspan></text>
<text transform="translate(761 61.2) scale(1 1.055)" font-size="29.5" fill="#000" text-anchor="end" id="t22"><tspan>30</tspan></text>
<line x1="1306.8" y1="467" x2="1321.5" y2="467" stroke="#000" stroke-width="3.4" stroke-linecap="butt" />
<line x1="1306.8" y1="383.72" x2="1321.5" y2="383.72" stroke="#000" stroke-width="3.4" stroke-linecap="butt" />
<line x1="1306.8" y1="300.44" x2="1321.5" y2="300.44" stroke="#000" stroke-width="3.4" stroke-linecap="butt" />
<line x1="1306.8" y1="217.16" x2="1321.5" y2="217.16" stroke="#000" stroke-width="3.4" stroke-linecap="butt" />
<line x1="1306.8" y1="133.88" x2="1321.5" y2="133.88" stroke="#000" stroke-width="3.4" stroke-linecap="butt" />
<line x1="1306.8" y1="50.6" x2="1321.5" y2="50.6" stroke="#000" stroke-width="3.4" stroke-linecap="butt" />
<line x1="1306.8" y1="425.36" x2="1315" y2="425.36" stroke="#000" stroke-width="3.4" stroke-linecap="butt" />
<line x1="1306.8" y1="342.08" x2="1315" y2="342.08" stroke="#000" stroke-width="3.4" stroke-linecap="butt" />
<line x1="1306.8" y1="258.8" x2="1315" y2="258.8" stroke="#000" stroke-width="3.4" stroke-linecap="butt" />
<line x1="1306.8" y1="175.52" x2="1315" y2="175.52" stroke="#000" stroke-width="3.4" stroke-linecap="butt" />
<line x1="1306.8" y1="92.24" x2="1315" y2="92.24" stroke="#000" stroke-width="3.4" stroke-linecap="butt" />
<text transform="translate(1330.3 477.4) scale(1 1.055)" font-size="29.5" fill="#000" id="t23"><tspan>0</tspan></text>
<text transform="translate(1330.3 394.12) scale(1 1.055)" font-size="29.5" fill="#000" id="t24"><tspan>5</tspan></text>
<text transform="translate(1330.3 310.84) scale(1 1.055)" font-size="29.5" fill="#000" id="t25"><tspan>10</tspan></text>
<text transform="translate(1330.3 227.56) scale(1 1.055)" font-size="29.5" fill="#000" id="t26"><tspan>15</tspan></text>
<text transform="translate(1330.3 144.28) scale(1 1.055)" font-size="29.5" fill="#000" id="t27"><tspan>20</tspan></text>
<text transform="translate(1330.3 61) scale(1 1.055)" font-size="29.5" fill="#000" id="t28"><tspan>25</tspan></text>
<text transform="translate(966 144.5) scale(1 1.055)" font-size="28.5" fill="#000" id="t29"><tspan>vs.</tspan></text>
<text transform="translate(855.92 501.55) rotate(-29.2) scale(1 1.055)" font-size="29.6" fill="#000" text-anchor="end" id="xl0"><tspan>Co-Mo</tspan></text>
<text transform="translate(985.47 504.5) rotate(-29.2) scale(1 1.055)" font-size="29.6" fill="#000" text-anchor="end" id="xl1"><tspan>Ru</tspan></text>
<text transform="translate(1119.42 493.55) rotate(-29.2) scale(1 1.055)" font-size="29.6" fill="#000" text-anchor="end" id="xl2"><tspan>HEA-Co</tspan><tspan dy="5.69" font-size="21">35</tspan><tspan dy="-5.69">Mo</tspan><tspan dy="5.69" font-size="21">35</tspan></text>
<text transform="translate(1248.58 492.5) rotate(-29.2) scale(1 1.055)" font-size="29.6" fill="#000" text-anchor="end" id="xl3"><tspan>HEA-Co</tspan><tspan dy="5.69" font-size="21">25</tspan><tspan dy="-5.69">Mo</tspan><tspan dy="5.69" font-size="21">45</tspan></text>
<text transform="translate(697.2 260.6) rotate(-90) scale(1 1.055)" font-size="29.2" fill="#000" text-anchor="middle" id="t30"><tspan>Rate at 500 °C (g</tspan><tspan dy="8.06" font-size="20.5">NH3</tspan><tspan dy="-8.06"> g</tspan><tspan dy="8.06" font-size="20.5">metals</tspan><tspan dy="-19.91" font-size="20.5">−1</tspan><tspan dy="11.85"> h</tspan><tspan dy="-11.85" font-size="20.5">−1</tspan><tspan dy="11.85">)</tspan></text>
<text transform="translate(1402 260) rotate(-90) scale(1 1.055)" font-size="29" fill="#000" text-anchor="middle" id="t31"><tspan>Improve factor (vs. Co-Mo)</tspan></text>
<line x1="1578.86" y1="179.82" x2="1675.8" y2="403.7" stroke="#7a1a20" stroke-width="3.5" stroke-linecap="butt" />
<polygon points="1578.86,178.93 1589.16,189.23 1578.86,199.53 1568.56,189.23" fill="#7a1a20"/>
<polygon points="1609.08,232.65 1619.38,242.95 1609.08,253.25 1598.78,242.95" fill="#7a1a20"/>
<polygon points="1641.33,300.24 1651.63,310.54 1641.33,320.84 1631.03,310.54" fill="#7a1a20"/>
<polygon points="1675.8,404.21 1686.1,414.51 1675.8,424.81 1665.5,414.51" fill="#7a1a20"/>
<line x1="1641.33" y1="174.43" x2="1752.42" y2="382.79" stroke="#177d3b" stroke-width="3.5" stroke-linecap="butt" />
<polygon points="1641.33,191.45 1630.51,172.91 1652.14,172.91" fill="#177d3b"/>
<polygon points="1675.8,246.9 1664.98,228.36 1686.61,228.36" fill="#177d3b"/>
<polygon points="1712.74,304.66 1701.92,286.12 1723.55,286.12" fill="#177d3b"/>
<polygon points="1752.42,402.86 1741.61,384.32 1763.24,384.32" fill="#177d3b"/>
<line x1="1712.74" y1="199.01" x2="1841.34" y2="415.99" stroke="#a655a0" stroke-width="3.5" stroke-linecap="butt" />
<polygon points="1712.74,190.49 1701.92,209.03 1723.55,209.03" fill="#a655a0"/>
<polygon points="1752.42,249.41 1741.61,267.95 1763.24,267.95" fill="#a655a0"/>
<polygon points="1795.17,334.9 1784.35,353.44 1805.98,353.44" fill="#a655a0"/>
<polygon points="1841.34,403.06 1830.53,421.6 1852.16,421.6" fill="#a655a0"/>
<line x1="1752.42" y1="197.41" x2="1891.38" y2="409.59" stroke="#1b4a9f" stroke-width="3.5" stroke-linecap="butt" />
<circle cx="1752.42" cy="198.48" r="8.24" fill="#1b4a9f"/>
<circle cx="1795.17" cy="259.71" r="8.24" fill="#1b4a9f"/>
<circle cx="1841.34" cy="335.95" r="8.24" fill="#1b4a9f"/>
<circle cx="1891.38" cy="408.74" r="8.24" fill="#1b4a9f"/>
<line x1="1841.34" y1="183.42" x2="2005.14" y2="382.08" stroke="#e41f26" stroke-width="3.5" stroke-linecap="butt" />
<rect x="1834.13" y="183.18" width="14.42" height="14.42" fill="#e41f26"/>
<rect x="1884.17" y="223.61" width="14.42" height="14.42" fill="#e41f26"/>
<rect x="1938.57" y="309.1" width="14.42" height="14.42" fill="#e41f26"/>
<rect x="1997.93" y="374.95" width="14.42" height="14.42" fill="#e41f26"/>
<rect x="1539.4" y="50.6" width="522.2" height="415.9" fill="none" stroke="#000" stroke-width="3.6"/>
<line x1="1524.7" y1="397.18" x2="1539.4" y2="397.18" stroke="#000" stroke-width="3.4" stroke-linecap="butt" />
<line x1="1524.7" y1="281.66" x2="1539.4" y2="281.66" stroke="#000" stroke-width="3.4" stroke-linecap="butt" />
<line x1="1524.7" y1="166.13" x2="1539.4" y2="166.13" stroke="#000" stroke-width="3.4" stroke-linecap="butt" />
<line x1="1524.7" y1="50.6" x2="1539.4" y2="50.6" stroke="#000" stroke-width="3.4" stroke-linecap="butt" />
<line x1="1531.2" y1="454.95" x2="1539.4" y2="454.95" stroke="#000" stroke-width="3.4" stroke-linecap="butt" />
<line x1="1531.2" y1="339.42" x2="1539.4" y2="339.42" stroke="#000" stroke-width="3.4" stroke-linecap="butt" />
<line x1="1531.2" y1="223.89" x2="1539.4" y2="223.89" stroke="#000" stroke-width="3.4" stroke-linecap="butt" />
<line x1="1531.2" y1="108.36" x2="1539.4" y2="108.36" stroke="#000" stroke-width="3.4" stroke-linecap="butt" />
<text transform="translate(1516 407.58) scale(1 1.055)" font-size="29.5" fill="#000" text-anchor="end" id="t32"><tspan>0</tspan></text>
<text transform="translate(1516 292.06) scale(1 1.055)" font-size="29.5" fill="#000" text-anchor="end" id="t33"><tspan>1</tspan></text>
<text transform="translate(1516 176.53) scale(1 1.055)" font-size="29.5" fill="#000" text-anchor="end" id="t34"><tspan>2</tspan></text>
<text transform="translate(1516 61) scale(1 1.055)" font-size="29.5" fill="#000" text-anchor="end" id="t35"><tspan>3</tspan></text>
<line x1="1539.4" y1="466.5" x2="1539.4" y2="481.2" stroke="#000" stroke-width="3.4" stroke-linecap="butt" />
<line x1="1688.6" y1="466.5" x2="1688.6" y2="481.2" stroke="#000" stroke-width="3.4" stroke-linecap="butt" />
<line x1="1837.8" y1="466.5" x2="1837.8" y2="481.2" stroke="#000" stroke-width="3.4" stroke-linecap="butt" />
<line x1="1987" y1="466.5" x2="1987" y2="481.2" stroke="#000" stroke-width="3.4" stroke-linecap="butt" />
<line x1="1614" y1="466.5" x2="1614" y2="474.7" stroke="#000" stroke-width="3.4" stroke-linecap="butt" />
<line x1="1763.2" y1="466.5" x2="1763.2" y2="474.7" stroke="#000" stroke-width="3.4" stroke-linecap="butt" />
<line x1="1912.4" y1="466.5" x2="1912.4" y2="474.7" stroke="#000" stroke-width="3.4" stroke-linecap="butt" />
<line x1="2061.6" y1="466.5" x2="2061.6" y2="474.7" stroke="#000" stroke-width="3.4" stroke-linecap="butt" />
<text transform="translate(1539.4 516) scale(1 1.055)" font-size="29.5" fill="#000" text-anchor="middle" id="t36"><tspan>1.2</tspan></text>
<text transform="translate(1688.6 516) scale(1 1.055)" font-size="29.5" fill="#000" text-anchor="middle" id="t37"><tspan>1.4</tspan></text>
<text transform="translate(1837.8 516) scale(1 1.055)" font-size="29.5" fill="#000" text-anchor="middle" id="t38"><tspan>1.6</tspan></text>
<text transform="translate(1987 516) scale(1 1.055)" font-size="29.5" fill="#000" text-anchor="middle" id="t39"><tspan>1.8</tspan></text>
<text transform="translate(1795 564) scale(1 1.055)" font-size="28.5" fill="#000" text-anchor="middle" id="t40"><tspan>1000/T (K</tspan><tspan dy="-11.37" font-size="19">−1</tspan><tspan dy="11.37">)</tspan></text>
<text transform="translate(1478.1 275.5) rotate(-90) scale(1 1.055)" font-size="29.3" fill="#000" text-anchor="middle" id="t41"><tspan>ln(rate) (g</tspan><tspan dy="7.58" font-size="20.5">NH3</tspan><tspan dy="-7.58"> g</tspan><tspan dy="7.58" font-size="20.5">metals</tspan><tspan dy="-19.43" font-size="20.5">−1</tspan><tspan dy="11.85"> h</tspan><tspan dy="-11.85" font-size="20.5">−1</tspan><tspan dy="11.85">)</tspan></text>
<text transform="translate(1552 104.5) scale(1 1.055)" font-size="28.5" fill="#000" id="t42"><tspan>HEA</tspan></text>
<path d="M1626,56 C1619,57.5 1618.5,63 1618.5,71 L1618.5,85 C1618.5,90.5 1617,93 1614,94.5 C1617,96 1618.5,98.5 1618.5,104 L1618.5,118 C1618.5,126 1619,132.5 1626,134" fill="none" stroke="#000" stroke-width="3.6"/>
<polygon points="1636,65.5 1625.5,83.5 1646.5,83.5" fill="#a655a0"/>
<text transform="translate(1651 85) scale(1 1.055)" font-size="25" fill="#000" id="t43"><tspan>Co</tspan><tspan dy="8.15" font-size="16.5">15</tspan><tspan dy="-8.15">Mo</tspan><tspan dy="8.15" font-size="16.5">55</tspan></text>
<polygon points="1636,124 1625.5,106 1646.5,106" fill="#177d3b"/>
<text transform="translate(1651 119) scale(1 1.055)" font-size="25" fill="#000" id="t44"><tspan>Co</tspan><tspan dy="8.15" font-size="16.5">45</tspan><tspan dy="-8.15">Mo</tspan><tspan dy="8.15" font-size="16.5">25</tspan></text>
<rect x="1780" y="70.8" width="14" height="14" fill="#e41f26"/>
<text transform="translate(1798.5 85) scale(1 1.055)" font-size="25" fill="#000" id="t45"><tspan>Co</tspan><tspan dy="8.15" font-size="16.5">25</tspan><tspan dy="-8.15">Mo</tspan><tspan dy="8.15" font-size="16.5">45</tspan></text>
<polygon points="1787,102.3 1797,112.3 1787,122.3 1777,112.3" fill="#7a1a20"/>
<text transform="translate(1798.5 119) scale(1 1.055)" font-size="25" fill="#000" id="t46"><tspan>Co</tspan><tspan dy="8.15" font-size="16.5">55</tspan><tspan dy="-8.15">Mo</tspan><tspan dy="8.15" font-size="16.5">15</tspan></text>
<circle cx="1935" cy="77.3" r="8" fill="#1b4a9f"/>
<text transform="translate(1947 85) scale(1 1.055)" font-size="25" fill="#000" id="t47"><tspan>Co</tspan><tspan dy="8.15" font-size="16.5">35</tspan><tspan dy="-8.15">Mo</tspan><tspan dy="8.15" font-size="16.5">35</tspan></text>
<text transform="translate(1661 155.4) scale(1 1.055)" font-size="24.6" fill="#a655a0" id="t48"><tspan>90.0 kJ mol</tspan><tspan dy="-11.85" font-size="16.5">−1</tspan></text>
<text transform="translate(1855.5 157.5) scale(1 1.055)" font-size="24.6" fill="#e41f26" id="t49"><tspan>64.7 kJ mol</tspan><tspan dy="-11.85" font-size="16.5">−1</tspan></text>
<text transform="translate(1548.5 457) scale(1 1.055)" font-size="24.6" fill="#7a1a20" id="t50"><tspan>123.1 kJ mol</tspan><tspan dy="-11.85" font-size="16.5">−1</tspan></text>
<text transform="translate(1711 445.3) scale(1 1.055)" font-size="24.6" fill="#177d3b" id="t51"><tspan>110.4 kJ mol</tspan><tspan dy="-11.85" font-size="16.5">−1</tspan></text>
<text transform="translate(1899 449) scale(1 1.055)" font-size="24.6" fill="#1b4a9f" id="t52"><tspan>81.7 kJ mol</tspan><tspan dy="-11.85" font-size="16.5">−1</tspan></text>
<polyline points="1715.8,195.2 1743,195.2 1743,172.9" fill="none" stroke="#a655a0" stroke-width="3.4" stroke-linejoin="miter"/>
<polygon points="1743,155.9 1734.3,179.9 1743,173.9 1751.7,179.9" fill="#a655a0"/>
<polyline points="1862.1,199.8 1890.9,199.8 1890.9,178.1" fill="none" stroke="#e41f26" stroke-width="3.4" stroke-linejoin="miter"/>
<polygon points="1890.9,161.1 1882.2,185.1 1890.9,179.1 1899.6,185.1" fill="#e41f26"/>
<polyline points="1651.7,386 1623.6,386 1623.6,408.5" fill="none" stroke="#7a1a20" stroke-width="3.4" stroke-linejoin="miter"/>
<polygon points="1623.6,425.5 1614.9,401.5 1623.6,407.5 1632.3,401.5" fill="#7a1a20"/>
<polyline points="1747.2,371.5 1721,371.5 1721,393.6" fill="none" stroke="#177d3b" stroke-width="3.4" stroke-linejoin="miter"/>
<polygon points="1721,410.6 1712.3,386.6 1721,392.6 1729.7,386.6" fill="#177d3b"/>
<polyline points="1882.9,383 1911.3,383 1911.3,405.7" fill="none" stroke="#1b4a9f" stroke-width="3.4" stroke-linejoin="miter"/>
<polygon points="1911.3,422.7 1902.6,398.7 1911.3,404.7 1920,398.7" fill="#1b4a9f"/>
<rect x="159.64" y="863.11" width="14" height="14" fill="#e41f26"/>
<rect x="340.99" y="795.68" width="14" height="14" fill="#e41f26"/>
<rect x="446.98" y="756.01" width="14" height="14" fill="#e41f26"/>
<rect x="522.35" y="736.18" width="14" height="14" fill="#e41f26"/>
<rect x="580.71" y="716.34" width="14" height="14" fill="#e41f26"/>
<polygon points="166.64,934.16 156.14,952.16 177.14,952.16" fill="#a655a0"/>
<polygon points="347.99,882.59 337.49,900.59 358.49,900.59" fill="#a655a0"/>
<polygon points="453.98,848.21 443.48,866.21 464.48,866.21" fill="#a655a0"/>
<polygon points="529.35,827.06 518.85,845.06 539.85,845.06" fill="#a655a0"/>
<polygon points="587.71,809.87 577.21,827.87 598.21,827.87" fill="#a655a0"/>
<polygon points="166.64,1053.32 156.14,1035.32 177.14,1035.32" fill="#177d3b"/>
<polygon points="347.99,960.77 337.49,942.77 358.49,942.77" fill="#177d3b"/>
<polygon points="453.98,909.2 443.48,891.2 464.48,891.2" fill="#177d3b"/>
<polygon points="529.35,872.18 518.85,854.18 539.85,854.18" fill="#177d3b"/>
<polygon points="587.71,843.09 577.21,825.09 598.21,825.09" fill="#177d3b"/>
<line x1="166.64" y1="867.82" x2="587.71" y2="720.98" stroke="#e41f26" stroke-width="3.6" stroke-linecap="butt" />
<line x1="166.64" y1="944.73" x2="587.71" y2="819.75" stroke="#a655a0" stroke-width="3.6" stroke-linecap="butt" />
<line x1="166.64" y1="1042.53" x2="587.71" y2="832.71" stroke="#177d3b" stroke-width="3.6" stroke-linecap="butt" />
<rect x="108.8" y="637.4" width="523.4" height="416.5" fill="none" stroke="#000" stroke-width="3.6"/>
<line x1="94.1" y1="1034.07" x2="108.8" y2="1034.07" stroke="#000" stroke-width="3.4" stroke-linecap="butt" />
<line x1="94.1" y1="901.84" x2="108.8" y2="901.84" stroke="#000" stroke-width="3.4" stroke-linecap="butt" />
<line x1="94.1" y1="769.62" x2="108.8" y2="769.62" stroke="#000" stroke-width="3.4" stroke-linecap="butt" />
<line x1="94.1" y1="637.4" x2="108.8" y2="637.4" stroke="#000" stroke-width="3.4" stroke-linecap="butt" />
<line x1="100.6" y1="967.96" x2="108.8" y2="967.96" stroke="#000" stroke-width="3.4" stroke-linecap="butt" />
<line x1="100.6" y1="835.73" x2="108.8" y2="835.73" stroke="#000" stroke-width="3.4" stroke-linecap="butt" />
<line x1="100.6" y1="703.51" x2="108.8" y2="703.51" stroke="#000" stroke-width="3.4" stroke-linecap="butt" />
<text transform="translate(86 1044.47) scale(1 1.055)" font-size="29.5" fill="#000" text-anchor="end" id="t53"><tspan>0</tspan></text>
<text transform="translate(86 912.24) scale(1 1.055)" font-size="29.5" fill="#000" text-anchor="end" id="t54"><tspan>1</tspan></text>
<text transform="translate(86 780.02) scale(1 1.055)" font-size="29.5" fill="#000" text-anchor="end" id="t55"><tspan>2</tspan></text>
<text transform="translate(86 647.8) scale(1 1.055)" font-size="29.5" fill="#000" text-anchor="end" id="t56"><tspan>3</tspan></text>
<line x1="187.31" y1="1053.9" x2="187.31" y2="1068.6" stroke="#000" stroke-width="3.4" stroke-linecap="butt" />
<line x1="318.16" y1="1053.9" x2="318.16" y2="1068.6" stroke="#000" stroke-width="3.4" stroke-linecap="butt" />
<line x1="449.01" y1="1053.9" x2="449.01" y2="1068.6" stroke="#000" stroke-width="3.4" stroke-linecap="butt" />
<line x1="579.86" y1="1053.9" x2="579.86" y2="1068.6" stroke="#000" stroke-width="3.4" stroke-linecap="butt" />
<line x1="121.88" y1="1053.9" x2="121.88" y2="1062.1" stroke="#000" stroke-width="3.4" stroke-linecap="butt" />
<line x1="252.74" y1="1053.9" x2="252.74" y2="1062.1" stroke="#000" stroke-width="3.4" stroke-linecap="butt" />
<line x1="383.59" y1="1053.9" x2="383.59" y2="1062.1" stroke="#000" stroke-width="3.4" stroke-linecap="butt" />
<line x1="514.44" y1="1053.9" x2="514.44" y2="1062.1" stroke="#000" stroke-width="3.4" stroke-linecap="butt" />
<text transform="translate(187.31 1101) scale(1 1.055)" font-size="29.5" fill="#000" text-anchor="middle" id="t57"><tspan>7.0</tspan></text>
<text transform="translate(318.16 1101) scale(1 1.055)" font-size="29.5" fill="#000" text-anchor="middle" id="t58"><tspan>7.5</tspan></text>
<text transform="translate(449.01 1101) scale(1 1.055)" font-size="29.5" fill="#000" text-anchor="middle" id="t59"><tspan>8.0</tspan></text>
<text transform="translate(579.86 1101) scale(1 1.055)" font-size="29.5" fill="#000" text-anchor="middle" id="t60"><tspan>8.5</tspan></text>
<text transform="translate(369.5 1151.9)" font-size="33" fill="#000" text-anchor="middle" id="d_xl"><tspan>ln (NH</tspan><tspan dy="8.5" font-size="24">3</tspan><tspan dy="-8.5">) (Pa)</tspan></text>
<text transform="translate(32.7 854) rotate(-90) scale(1 1.055)" font-size="29.3" fill="#000" text-anchor="middle" id="t61"><tspan>ln(rate) (g</tspan><tspan dy="7.58" font-size="20.5">NH3</tspan><tspan dy="-7.58"> g</tspan><tspan dy="7.58" font-size="20.5">metals</tspan><tspan dy="-19.43" font-size="20.5">−1</tspan><tspan dy="11.85"> h</tspan><tspan dy="-11.85" font-size="20.5">−1</tspan><tspan dy="11.85">)</tspan></text>
<polygon points="130.8,652.5 120.3,670.5 141.3,670.5" fill="#a655a0"/>
<text transform="translate(151 671) scale(1 1.055)" font-size="25" fill="#000" id="t62"><tspan>HEA-Co</tspan><tspan dy="8.15" font-size="16.5">15</tspan><tspan dy="-8.15">Mo</tspan><tspan dy="8.15" font-size="16.5">55</tspan></text>
<rect x="123.8" y="707" width="14" height="14" fill="#e41f26"/>
<text transform="translate(151 722.5) scale(1 1.055)" font-size="25" fill="#000" id="t63"><tspan>HEA-Co</tspan><tspan dy="8.15" font-size="16.5">25</tspan><tspan dy="-8.15">Mo</tspan><tspan dy="8.15" font-size="16.5">45</tspan></text>
<polygon points="130.8,775.5 120.3,757.5 141.3,757.5" fill="#177d3b"/>
<text transform="translate(151 774) scale(1 1.055)" font-size="25" fill="#000" id="t64"><tspan>HEA-Co</tspan><tspan dy="8.15" font-size="16.5">45</tspan><tspan dy="-8.15">Mo</tspan><tspan dy="8.15" font-size="16.5">25</tspan></text>
<text transform="translate(405.35 760.25) rotate(-20.7) scale(1 1.055)" font-size="25" fill="#e41f26" id="d_r"><tspan>n (NH</tspan><tspan dy="6.64" font-size="17">3</tspan><tspan dy="-6.64">) = 0.7</tspan></text>
<text transform="translate(356.3 868.1) rotate(-17.6) scale(1 1.055)" font-size="25" fill="#a655a0" id="d_p"><tspan>n (NH</tspan><tspan dy="6.64" font-size="17">3</tspan><tspan dy="-6.64">) = 0.6</tspan></text>
<text transform="translate(381.45 979.05) rotate(-26.2) scale(1 1.055)" font-size="25" fill="#177d3b" id="d_g"><tspan>n (NH</tspan><tspan dy="6.64" font-size="17">3</tspan><tspan dy="-6.64">) = 1.0</tspan></text>
<line x1="843.11" y1="729.08" x2="1263.48" y2="875.39" stroke="#e41f26" stroke-width="3.6" stroke-linecap="butt" />
<line x1="843.11" y1="803.69" x2="1263.48" y2="932.23" stroke="#a655a0" stroke-width="3.6" stroke-linecap="butt" />
<line x1="843.11" y1="833.54" x2="1263.48" y2="1041.83" stroke="#177d3b" stroke-width="3.6" stroke-linecap="butt" />
<rect x="836.11" y="723.28" width="14" height="14" fill="#e41f26"/>
<rect x="1017.05" y="779.46" width="14" height="14" fill="#e41f26"/>
<rect x="1123.06" y="827.77" width="14" height="14" fill="#e41f26"/>
<rect x="1198.25" y="849.11" width="14" height="14" fill="#e41f26"/>
<rect x="1256.48" y="865.97" width="14" height="14" fill="#e41f26"/>
<polygon points="843.11,797.8 832.61,815.8 853.61,815.8" fill="#a655a0"/>
<polygon points="1024.05,842.74 1013.55,860.74 1034.55,860.74" fill="#a655a0"/>
<polygon points="1130.06,878.7 1119.56,896.7 1140.56,896.7" fill="#a655a0"/>
<polygon points="1205.25,906.78 1194.75,924.78 1215.75,924.78" fill="#a655a0"/>
<polygon points="1263.48,924.76 1252.98,942.76 1273.98,942.76" fill="#a655a0"/>
<polygon points="843.11,843.64 832.61,825.64 853.61,825.64" fill="#177d3b"/>
<polygon points="1024.05,934.65 1013.55,916.65 1034.55,916.65" fill="#177d3b"/>
<polygon points="1130.06,984.08 1119.56,966.08 1140.56,966.08" fill="#177d3b"/>
<polygon points="1205.25,1020.04 1194.75,1002.04 1215.75,1002.04" fill="#177d3b"/>
<polygon points="1263.48,1054.86 1252.98,1036.86 1273.98,1036.86" fill="#177d3b"/>
<rect x="784.1" y="640.4" width="522.2" height="415.7" fill="none" stroke="#000" stroke-width="3.6"/>
<line x1="769.4" y1="977.45" x2="784.1" y2="977.45" stroke="#000" stroke-width="3.4" stroke-linecap="butt" />
<line x1="769.4" y1="865.1" x2="784.1" y2="865.1" stroke="#000" stroke-width="3.4" stroke-linecap="butt" />
<line x1="769.4" y1="752.75" x2="784.1" y2="752.75" stroke="#000" stroke-width="3.4" stroke-linecap="butt" />
<line x1="769.4" y1="640.4" x2="784.1" y2="640.4" stroke="#000" stroke-width="3.4" stroke-linecap="butt" />
<line x1="775.9" y1="1033.63" x2="784.1" y2="1033.63" stroke="#000" stroke-width="3.4" stroke-linecap="butt" />
<line x1="775.9" y1="921.28" x2="784.1" y2="921.28" stroke="#000" stroke-width="3.4" stroke-linecap="butt" />
<line x1="775.9" y1="808.93" x2="784.1" y2="808.93" stroke="#000" stroke-width="3.4" stroke-linecap="butt" />
<line x1="775.9" y1="696.58" x2="784.1" y2="696.58" stroke="#000" stroke-width="3.4" stroke-linecap="butt" />
<text transform="translate(761 987.85) scale(1 1.055)" font-size="29.5" fill="#000" text-anchor="end" id="t65"><tspan>0</tspan></text>
<text transform="translate(761 875.5) scale(1 1.055)" font-size="29.5" fill="#000" text-anchor="end" id="t66"><tspan>1</tspan></text>
<text transform="translate(761 763.15) scale(1 1.055)" font-size="29.5" fill="#000" text-anchor="end" id="t67"><tspan>2</tspan></text>
<text transform="translate(761 650.8) scale(1 1.055)" font-size="29.5" fill="#000" text-anchor="end" id="t68"><tspan>3</tspan></text>
<line x1="888.54" y1="1056.1" x2="888.54" y2="1070.8" stroke="#000" stroke-width="3.4" stroke-linecap="butt" />
<line x1="1019.09" y1="1056.1" x2="1019.09" y2="1070.8" stroke="#000" stroke-width="3.4" stroke-linecap="butt" />
<line x1="1149.64" y1="1056.1" x2="1149.64" y2="1070.8" stroke="#000" stroke-width="3.4" stroke-linecap="butt" />
<line x1="1280.19" y1="1056.1" x2="1280.19" y2="1070.8" stroke="#000" stroke-width="3.4" stroke-linecap="butt" />
<line x1="823.27" y1="1056.1" x2="823.27" y2="1064.3" stroke="#000" stroke-width="3.4" stroke-linecap="butt" />
<line x1="953.82" y1="1056.1" x2="953.82" y2="1064.3" stroke="#000" stroke-width="3.4" stroke-linecap="butt" />
<line x1="1084.37" y1="1056.1" x2="1084.37" y2="1064.3" stroke="#000" stroke-width="3.4" stroke-linecap="butt" />
<line x1="1214.91" y1="1056.1" x2="1214.91" y2="1064.3" stroke="#000" stroke-width="3.4" stroke-linecap="butt" />
<text transform="translate(888.54 1101) scale(1 1.055)" font-size="29.5" fill="#000" text-anchor="middle" id="t69"><tspan>7.5</tspan></text>
<text transform="translate(1019.09 1101) scale(1 1.055)" font-size="29.5" fill="#000" text-anchor="middle" id="t70"><tspan>8.0</tspan></text>
<text transform="translate(1149.64 1101) scale(1 1.055)" font-size="29.5" fill="#000" text-anchor="middle" id="t71"><tspan>8.5</tspan></text>
<text transform="translate(1280.19 1101) scale(1 1.055)" font-size="29.5" fill="#000" text-anchor="middle" id="t72"><tspan>9.0</tspan></text>
<text transform="translate(1045.55 1154.4)" font-size="33" fill="#000" text-anchor="middle" id="e_xl"><tspan>ln (H</tspan><tspan dy="8.5" font-size="24">2</tspan><tspan dy="-8.5">) (Pa)</tspan></text>
<text transform="translate(704.4 858.9) rotate(-90) scale(1 1.055)" font-size="29.3" fill="#000" text-anchor="middle" id="t73"><tspan>ln(rate) (g</tspan><tspan dy="7.58" font-size="20.5">NH3</tspan><tspan dy="-7.58"> g</tspan><tspan dy="7.58" font-size="20.5">metals</tspan><tspan dy="-19.43" font-size="20.5">−1</tspan><tspan dy="11.85"> h</tspan><tspan dy="-11.85" font-size="20.5">−1</tspan><tspan dy="11.85">)</tspan></text>
<polygon points="1079.2,658.5 1068.7,676.5 1089.7,676.5" fill="#a655a0"/>
<text transform="translate(1098 677) scale(1 1.055)" font-size="25" fill="#000" id="t74"><tspan>HEA-Co</tspan><tspan dy="8.15" font-size="16.5">15</tspan><tspan dy="-8.15">Mo</tspan><tspan dy="8.15" font-size="16.5">55</tspan></text>
<rect x="1072.2" y="713" width="14" height="14" fill="#e41f26"/>
<text transform="translate(1098 728.5) scale(1 1.055)" font-size="25" fill="#000" id="t75"><tspan>HEA-Co</tspan><tspan dy="8.15" font-size="16.5">25</tspan><tspan dy="-8.15">Mo</tspan><tspan dy="8.15" font-size="16.5">45</tspan></text>
<polygon points="1079.2,781.5 1068.7,763.5 1089.7,763.5" fill="#177d3b"/>
<text transform="translate(1098 780) scale(1 1.055)" font-size="25" fill="#000" id="t76"><tspan>HEA-Co</tspan><tspan dy="8.15" font-size="16.5">45</tspan><tspan dy="-8.15">Mo</tspan><tspan dy="8.15" font-size="16.5">25</tspan></text>
<text transform="translate(879.9 712.65) rotate(17.8) scale(1 1.055)" font-size="25" fill="#e41f26" id="e_r"><tspan>n (H</tspan><tspan dy="6.64" font-size="17">2</tspan><tspan dy="-6.64">) = −0.8</tspan></text>
<text transform="translate(861.85 792.8) rotate(17.6) scale(1 1.055)" font-size="25" fill="#a655a0" id="e_p"><tspan>n (H</tspan><tspan dy="6.64" font-size="17">2</tspan><tspan dy="-6.64">) = −0.7</tspan></text>
<text transform="translate(856.65 887.3) rotate(28) scale(1 1.055)" font-size="25" fill="#177d3b" id="e_g"><tspan>n (H</tspan><tspan dy="6.64" font-size="17">2</tspan><tspan dy="-6.64">) = −1.1</tspan></text>
<g id="imgs_f"><g clip-path="url(#cpf0)">
<rect x="1617.0" y="785.6" width="120.8" height="124.7" fill="#000" />
<rect x="1617.0" y="785.6" width="120.8" height="124.7" fill="url(#ghf0)" />
<rect x="1617.0" y="785.6" width="120.8" height="124.7" fill="url(#gdf0)" filter="url(#nzf0)"/>
</g>
<g clip-path="url(#cpf1)">
<rect x="1742.2" y="785.6" width="122.4" height="124.7" fill="#000" />
<rect x="1742.2" y="785.6" width="122.4" height="124.7" fill="url(#ghf1)" />
<rect x="1742.2" y="785.6" width="122.4" height="124.7" fill="url(#gdf1)" filter="url(#nzf1)"/>
</g>
<g clip-path="url(#cpf2)">
<rect x="1870.9" y="785.6" width="121.3" height="124.7" fill="#000" />
<rect x="1870.9" y="785.6" width="121.3" height="124.7" fill="url(#ghf2)" />
<rect x="1870.9" y="785.6" width="121.3" height="124.7" fill="url(#gdf2)" filter="url(#nzf2)"/>
</g>
<g clip-path="url(#cpf3)">
<rect x="1617.0" y="915.4" width="120.8" height="125.0" fill="#000" />
<rect x="1617.0" y="915.4" width="120.8" height="125.0" fill="url(#ghf3)" />
<rect x="1617.0" y="915.4" width="120.8" height="125.0" fill="url(#gdf3)" filter="url(#nzf3)"/>
</g>
<g clip-path="url(#cpf4)">
<rect x="1742.2" y="916.4" width="122.4" height="124.0" fill="#000" />
<rect x="1742.2" y="916.4" width="122.4" height="124.0" fill="url(#ghf4)" />
<rect x="1742.2" y="916.4" width="122.4" height="124.0" fill="url(#gdf4)" filter="url(#nzf4)"/>
</g>
<g clip-path="url(#cpf5)">
<rect x="1869.9" y="914.2" width="122.3" height="126.2" fill="#101010" />
<g mask="url(#mmix)"><rect x="1869.9" y="914.2" width="122.3" height="126.2" fill="#a0a496" /><rect x="1869.9" y="914.2" width="122.3" height="126.2" fill="#fff" filter="url(#cnf5)"/></g>
</g>
<rect x="1625" y="889.7" width="48" height="10.3" fill="#fff"/></g>
<circle cx="1559.8" cy="765.1" r="7.85" fill="#000"/>
<circle cx="1580.2" cy="764.9" r="7.85" fill="#000"/>
<circle cx="1600.7" cy="765.1" r="7.85" fill="#000"/>
<circle cx="1621.1" cy="764.7" r="7.85" fill="#000"/>
<circle cx="1641.6" cy="766" r="7.85" fill="#000"/>
<circle cx="1662.2" cy="767.4" r="7.85" fill="#000"/>
<circle cx="1682.7" cy="767.3" r="7.85" fill="#000"/>
<circle cx="1703.2" cy="767.3" r="7.85" fill="#000"/>
<circle cx="1723.6" cy="767.3" r="7.85" fill="#000"/>
<circle cx="1744.1" cy="767.4" r="7.85" fill="#000"/>
<circle cx="1764.5" cy="767.3" r="7.85" fill="#000"/>
<circle cx="1785" cy="767.6" r="7.85" fill="#000"/>
<circle cx="1805.7" cy="767.3" r="7.85" fill="#000"/>
<circle cx="1826.2" cy="764.7" r="7.85" fill="#000"/>
<circle cx="1846.5" cy="764.1" r="7.85" fill="#000"/>
<circle cx="1867" cy="767.3" r="7.85" fill="#000"/>
<circle cx="1887.7" cy="768.5" r="7.85" fill="#000"/>
<circle cx="1908.2" cy="768.5" r="7.85" fill="#000"/>
<circle cx="1928.6" cy="770.8" r="7.85" fill="#000"/>
<circle cx="1949" cy="770.2" r="7.85" fill="#000"/>
<circle cx="1969.6" cy="770.2" r="7.85" fill="#000"/>
<circle cx="1990.2" cy="771.4" r="7.85" fill="#000"/>
<circle cx="2010.7" cy="768.6" r="7.85" fill="#000"/>
<circle cx="2031.2" cy="768.9" r="7.85" fill="#000"/>
<circle cx="2051.6" cy="771" r="7.85" fill="#000"/>
<rect x="1539.3" y="640.4" width="522.5" height="416.8" fill="none" stroke="#000" stroke-width="3.6"/>
<line x1="1524.6" y1="1057.2" x2="1539.3" y2="1057.2" stroke="#000" stroke-width="3.4" stroke-linecap="butt" />
<line x1="1524.6" y1="938.11" x2="1539.3" y2="938.11" stroke="#000" stroke-width="3.4" stroke-linecap="butt" />
<line x1="1524.6" y1="819.03" x2="1539.3" y2="819.03" stroke="#000" stroke-width="3.4" stroke-linecap="butt" />
<line x1="1524.6" y1="699.94" x2="1539.3" y2="699.94" stroke="#000" stroke-width="3.4" stroke-linecap="butt" />
<line x1="1531.1" y1="997.66" x2="1539.3" y2="997.66" stroke="#000" stroke-width="3.4" stroke-linecap="butt" />
<line x1="1531.1" y1="878.57" x2="1539.3" y2="878.57" stroke="#000" stroke-width="3.4" stroke-linecap="butt" />
<line x1="1531.1" y1="759.49" x2="1539.3" y2="759.49" stroke="#000" stroke-width="3.4" stroke-linecap="butt" />
<text transform="translate(1516 1067.6) scale(1 1.055)" font-size="29.5" fill="#000" text-anchor="end" id="t77"><tspan>60</tspan></text>
<text transform="translate(1516 948.51) scale(1 1.055)" font-size="29.5" fill="#000" text-anchor="end" id="t78"><tspan>70</tspan></text>
<text transform="translate(1516 829.43) scale(1 1.055)" font-size="29.5" fill="#000" text-anchor="end" id="t79"><tspan>80</tspan></text>
<text transform="translate(1516 710.34) scale(1 1.055)" font-size="29.5" fill="#000" text-anchor="end" id="t80"><tspan>90</tspan></text>
<line x1="1539.3" y1="1057.2" x2="1539.3" y2="1071.9" stroke="#000" stroke-width="3.4" stroke-linecap="butt" />
<line x1="1641.75" y1="1057.2" x2="1641.75" y2="1071.9" stroke="#000" stroke-width="3.4" stroke-linecap="butt" />
<line x1="1744.2" y1="1057.2" x2="1744.2" y2="1071.9" stroke="#000" stroke-width="3.4" stroke-linecap="butt" />
<line x1="1846.65" y1="1057.2" x2="1846.65" y2="1071.9" stroke="#000" stroke-width="3.4" stroke-linecap="butt" />
<line x1="1949.1" y1="1057.2" x2="1949.1" y2="1071.9" stroke="#000" stroke-width="3.4" stroke-linecap="butt" />
<line x1="2051.55" y1="1057.2" x2="2051.55" y2="1071.9" stroke="#000" stroke-width="3.4" stroke-linecap="butt" />
<line x1="1590.53" y1="1057.2" x2="1590.53" y2="1065.4" stroke="#000" stroke-width="3.4" stroke-linecap="butt" />
<line x1="1692.98" y1="1057.2" x2="1692.98" y2="1065.4" stroke="#000" stroke-width="3.4" stroke-linecap="butt" />
<line x1="1795.43" y1="1057.2" x2="1795.43" y2="1065.4" stroke="#000" stroke-width="3.4" stroke-linecap="butt" />
<line x1="1897.88" y1="1057.2" x2="1897.88" y2="1065.4" stroke="#000" stroke-width="3.4" stroke-linecap="butt" />
<line x1="2000.33" y1="1057.2" x2="2000.33" y2="1065.4" stroke="#000" stroke-width="3.4" stroke-linecap="butt" />
<text transform="translate(1539.3 1104) scale(1 1.055)" font-size="29.5" fill="#000" text-anchor="middle" id="t81"><tspan>0</tspan></text>
<text transform="translate(1641.75 1104) scale(1 1.055)" font-size="29.5" fill="#000" text-anchor="middle" id="t82"><tspan>10</tspan></text>
<text transform="translate(1744.2 1104) scale(1 1.055)" font-size="29.5" fill="#000" text-anchor="middle" id="t83"><tspan>20</tspan></text>
<text transform="translate(1846.65 1104) scale(1 1.055)" font-size="29.5" fill="#000" text-anchor="middle" id="t84"><tspan>30</tspan></text>
<text transform="translate(1949.1 1104) scale(1 1.055)" font-size="29.5" fill="#000" text-anchor="middle" id="t85"><tspan>40</tspan></text>
<text transform="translate(2051.55 1104) scale(1 1.055)" font-size="29.5" fill="#000" text-anchor="middle" id="t86"><tspan>50</tspan></text>
<text transform="translate(1800 1151) scale(1 1.055)" font-size="29" fill="#000" text-anchor="middle" id="t87"><tspan>Time on stream (h)</tspan></text>
<text transform="translate(1463 849) rotate(-90) scale(1 1.055)" font-size="29.2" fill="#000" text-anchor="middle" id="t88"><tspan>NH</tspan><tspan dy="7.58" font-size="19.5">3</tspan><tspan dy="-7.58"> conversion (%)</tspan></text>
<text transform="translate(1594.3 709.7)" font-size="29" fill="#1b4a9f" letter-spacing="-1.3" id="f_eq1"><tspan>2NH</tspan><tspan dy="8.2" font-size="20">3</tspan></text>
<line x1="1667.2" y1="700.8" x2="1692" y2="700.8" stroke="#1b4a9f" stroke-width="4" stroke-linecap="butt" />
<polygon points="1690,693 1723.8,700.8 1690,709.5" fill="#1b4a9f"/>
<text transform="translate(1729.7 709.7)" font-size="29" fill="#1b4a9f" letter-spacing="-1.3" id="f_eq2"><tspan>N</tspan><tspan dy="8.2" font-size="20">2</tspan></text>
<text transform="translate(1768.9 712.5)" font-size="29" fill="#1b4a9f" id="f_eq3"><tspan>+</tspan></text>
<text transform="translate(1792.2 709.7)" font-size="29" fill="#1b4a9f" letter-spacing="-1.3" id="f_eq4"><tspan>3H</tspan><tspan dy="8.2" font-size="20">2</tspan></text>
<text transform="translate(1847.5 708.1)" font-size="29" fill="#1b4a9f" letter-spacing="-0.4" id="f_eq5"><tspan>@ 500 °C</tspan></text>
<text x="804.5" y="99.4" font-size="28.5" fill="#fff">Co-Mo</text><text x="1019.7" y="99.4" font-size="28.5" fill="#fff">HEA</text><text x="1623.7" y="820" font-size="28.5" fill="#fff">Co</text><text x="1748.7" y="820" font-size="28.5" fill="#fff">Mo</text><text x="1877" y="820" font-size="28.5" fill="#fff">Fe</text><text x="1624.9" y="946" font-size="28.5" fill="#fff">Ni</text><text x="1749" y="946" font-size="28.5" fill="#fff">Cu</text><text x="1877.5" y="946" font-size="28.5" fill="#fff">Mix</text>
</svg></body></html>
